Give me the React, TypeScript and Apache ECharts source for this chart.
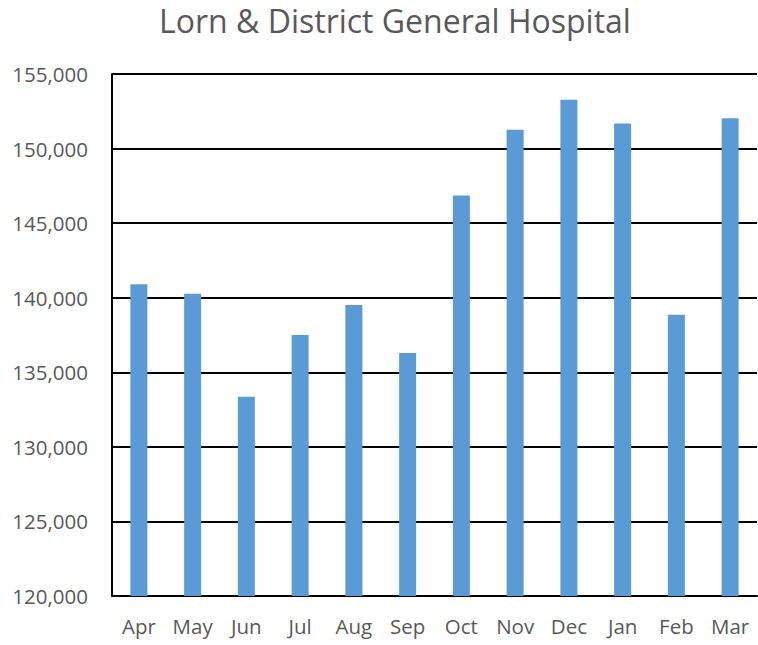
import React, { useEffect, useRef } from "react";
import * as echarts from "echarts";

const categories = ["Apr", "May", "Jun", "Jul", "Aug", "Sep", "Oct", "Nov", "Dec", "Jan", "Feb", "Mar"];
const values = [140900, 140270, 133360, 137500, 139510, 136290, 146850, 151270, 153270, 151680, 138860, 152030];
const yMin = 120000;
const yMax = 155000;
const yStep = 5000;
const title = "Lorn & District General Hospital";

export default function App() {
  const ref = useRef<HTMLDivElement>(null);
  useEffect(() => {
    if (!ref.current) return;
    const chart = echarts.init(ref.current, null, { renderer: "svg" });
    chart.setOption({
      animation: false,
      title: {
        text: title,
        left: 390,
        textAlign: "center",
        top: -1,
        textStyle: { fontFamily: "Open Sans", fontSize: 32, fontWeight: "normal", color: "#595959" },
      },
      grid: { left: 112, right: 1, top: 74, bottom: 49, containLabel: false },
      xAxis: {
        type: "category",
        data: categories,
        axisLine: { show: true, lineStyle: { color: "#000", width: 2 } },
        axisTick: { show: false },
        axisLabel: { fontFamily: "Open Sans", fontSize: 20.5, color: "#595959", margin: 19 },
      },
      yAxis: {
        type: "value",
        min: yMin,
        max: yMax,
        interval: yStep,
        axisLine: { show: true, lineStyle: { color: "#000", width: 2 } },
        axisTick: { show: false },
        splitLine: { show: true, lineStyle: { color: "#000", width: 2 } },
        axisLabel: {
          fontFamily: "Open Sans",
          fontSize: 20.5,
          color: "#595959",
          margin: 24,
          formatter: (v: number) => v.toLocaleString("en-US"),
        },
      },
      series: [
        {
          type: "bar",
          data: values,
          barWidth: 17,
          itemStyle: { color: "#5B9BD5" },
        },
      ],
    });
    return () => chart.dispose();
  }, []);
  return <div ref={ref} style={{ width: 758, height: 645, position: "absolute", left: 0, top: 0 }} />;
}
